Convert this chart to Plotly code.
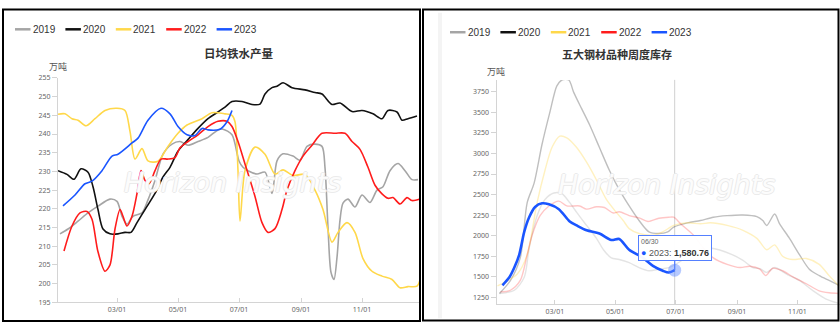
import plotly.graph_objects as go

W, H = 840, 327
YEAR = "2021-"

years = ["2019", "2020", "2021", "2022", "2023"]
colors = ["#A5A5A5", "#111111", "#FFD84A", "#FF1C1C", "#1A55FF"]
faded = ["rgba(165,165,165,0.30)", "rgba(17,17,17,0.27)", "rgba(255,216,74,0.35)",
         "rgba(255,28,28,0.25)", "rgba(26,85,255,0.3)"]

left_title = "日均铁水产量"
right_title = "五大钢材品种周度库存"
unit = "万吨"
watermark = "Horizon Insights"
tick_dates = ["03-01", "05-01", "07-01", "09-01", "11-01"]

# ---------------- 日均铁水产量 (万吨) ----------------
iron_2019_dates = ["01-03", "01-11", "01-21", "01-31", "02-10", "02-22", "03-01", "03-06", "03-11", "03-17",
                   "03-26", "04-01", "04-08", "04-16", "04-25", "05-03", "05-11", "05-21", "05-31", "06-10",
                   "06-15", "06-24", "07-01", "07-05", "07-10", "07-19", "07-27", "08-03", "08-08", "08-14",
                   "08-24", "08-31", "09-07", "09-15", "09-22", "09-25", "09-28", "10-01", "10-04", "10-07",
                   "10-10", "10-13", "10-18", "10-25", "11-01", "11-09", "11-16", "11-22", "11-29", "12-07",
                   "12-14", "12-21", "12-27"]
iron_2019_vals = [213.3, 214.6, 216.7, 218.9, 220.7, 222.6, 222.0, 218.0, 215.9, 218.0,
                  218.9, 222.4, 227.6, 234.6, 237.3, 238.0, 237.0, 238.0, 239.1, 241.1,
                  241.3, 239.8, 232.8, 231.1, 230.2, 229.3, 229.8, 224.1, 232.8, 234.7,
                  234.1, 233.0, 236.7, 237.3, 236.7, 231.0, 215.0, 203.0, 201.1, 207.0,
                  217.0, 221.5, 222.6, 220.5, 223.7, 221.7, 225.0, 225.9, 230.2, 232.1,
                  230.2, 227.8, 227.8]

iron_2020_dates = ["01-01", "01-10", "01-17", "01-24", "01-31", "02-05", "02-10", "02-15", "02-22", "03-02",
                   "03-09", "03-15", "03-21", "03-29", "04-08", "04-16", "04-23", "05-01", "05-11", "05-21",
                   "05-31", "06-10", "06-17", "06-24", "07-04", "07-14", "07-22", "07-27", "08-03", "08-08",
                   "08-14", "08-23", "09-05", "09-15", "09-22", "10-02", "10-10", "10-22", "11-01", "11-12",
                   "11-21", "11-27", "12-06", "12-11", "12-17", "12-26"]
iron_2020_vals = [230.2, 229.2, 227.9, 230.7, 229.8, 225.9, 219.8, 214.6, 213.3, 213.3,
                  213.7, 213.7, 216.3, 219.8, 224.1, 228.5, 231.1, 235.4, 238.5, 241.5,
                  244.1, 245.9, 247.2, 248.7, 248.7, 247.9, 248.0, 250.7, 252.4, 252.8,
                  253.7, 252.4, 251.8, 251.1, 250.7, 247.9, 248.3, 246.0, 246.3, 245.4,
                  244.1, 246.3, 245.9, 243.7, 244.1, 244.8]

iron_2021_dates = ["01-01", "01-08", "01-15", "01-21", "01-29", "02-07", "02-17", "03-01", "03-09", "03-14",
                   "03-19", "03-26", "04-01", "04-11", "04-21", "05-01", "05-10", "05-25", "06-04", "06-17",
                   "06-24", "06-27", "06-30", "07-02", "07-07", "07-17", "07-27", "08-06", "08-14", "08-24",
                   "09-05", "09-15", "09-23", "10-02", "10-08", "10-17", "10-25", "11-02", "11-11", "11-21",
                   "12-01", "12-09", "12-17", "12-26", "12-30"]
iron_2021_vals = [245.3, 245.4, 244.1, 243.7, 242.2, 244.1, 246.3, 246.9, 246.3, 240.7,
                  233.3, 236.1, 232.8, 232.7, 236.7, 240.2, 242.4, 244.1, 245.7, 245.4,
                  245.0, 243.3, 230.2, 216.7, 230.2, 236.5, 234.6, 229.3, 230.4, 228.9,
                  229.2, 225.0, 219.8, 211.1, 213.7, 216.3, 213.7, 206.7, 203.3, 202.0,
                  201.1, 198.9, 199.2, 199.3, 202.0]

iron_2022_dates = ["01-07", "01-15", "01-23", "01-30", "02-04", "02-10", "02-17", "02-22", "02-27", "03-04",
                   "03-07", "03-11", "03-16", "03-21", "03-25", "03-29", "04-02", "04-08", "04-14", "04-21",
                   "04-28", "05-03", "05-11", "05-21", "05-31", "06-10", "06-19", "06-24", "06-30", "07-07",
                   "07-17", "07-24", "07-30", "08-06", "08-13", "08-18", "08-26", "09-03", "09-12", "09-22",
                   "10-05", "10-15", "10-22", "10-30", "11-07", "11-14", "11-21", "11-27", "12-02", "12-09",
                   "12-16", "12-21", "12-29"]
iron_2022_vals = [208.7, 215.4, 218.9, 219.3, 217.2, 208.5, 203.3, 205.0, 214.6, 219.8,
                  218.0, 215.4, 218.0, 224.1, 230.2, 227.6, 226.7, 230.2, 233.3, 233.3,
                  233.7, 236.3, 238.0, 239.8, 242.0, 243.4, 243.4, 242.0, 238.0, 232.0,
                  223.3, 216.3, 213.7, 214.7, 219.8, 225.0, 230.2, 234.1, 237.0, 240.2,
                  240.2, 240.2, 238.0, 235.9, 231.1, 226.3, 224.0, 222.8, 223.0, 221.3,
                  223.0, 222.2, 222.6]

iron_2023_dates = ["01-06", "01-18", "01-28", "02-04", "02-14", "02-24", "03-02", "03-16", "03-22", "04-01",
                   "04-14", "04-23", "05-01", "05-10", "05-18", "05-25", "05-31", "06-12", "06-19", "06-24"]
iron_2023_vals = [220.8, 223.7, 226.7, 227.4, 230.2, 234.1, 234.6, 237.6, 238.9, 243.7,
                  246.9, 245.4, 242.0, 239.8, 239.6, 241.5, 241.1, 241.3, 243.3, 246.3]

# ---------------- 五大钢材品种周度库存 (万吨) ----------------
stock_2019_dates = ["01-04", "01-19", "01-29", "02-03", "02-11", "02-19", "02-28", "03-08", "03-16", "03-23",
                    "04-02", "04-12", "04-19", "04-27", "05-05", "05-15", "05-25", "06-04", "06-14", "06-24",
                    "07-06", "07-16", "07-26", "08-05", "08-27", "09-07", "09-17", "09-24", "10-01", "10-09",
                    "10-21", "11-03", "11-16", "11-30", "12-12"]
stock_2019_vals = [1297, 1337, 1495, 1850, 2244, 2441, 2520, 2512, 2402, 2284,
                   2125, 1968, 1830, 1731, 1711, 1672, 1613, 1574, 1593, 1613,
                   1690, 1785, 1840, 1850, 1771, 1700, 1613, 1600, 1554, 1613,
                   1534, 1456, 1338, 1230, 1180]

stock_2020_dates = ["01-04", "01-15", "01-25", "02-01", "02-08", "02-16", "02-24", "03-03", "03-08", "03-15",
                    "03-20", "03-28", "04-05", "04-15", "04-25", "05-05", "05-15", "05-25", "06-04", "06-14",
                    "06-23", "06-29", "07-13", "07-26", "08-08", "08-22", "09-07", "09-21", "09-27", "10-01",
                    "10-09", "10-14", "10-24", "11-03", "11-13", "11-23", "12-03", "12-13"]
stock_2020_vals = [1297, 1455, 1731, 2402, 2639, 3112, 3506, 3822, 3893, 3893,
                   3743, 3545, 3349, 3072, 2796, 2560, 2362, 2185, 2047, 2027,
                   2047, 2106, 2157, 2185, 2225, 2244, 2252, 2232, 2185, 2125,
                   2264, 2145, 1968, 1771, 1593, 1515, 1456, 1397]

stock_2021_dates = ["01-02", "01-22", "02-01", "02-11", "02-19", "02-26", "03-06", "03-13", "03-23", "04-02",
                    "04-12", "04-22", "05-02", "05-09", "05-15", "05-25", "06-08", "06-18", "06-29", "07-13",
                    "07-26", "08-05", "08-22", "09-07", "09-21", "10-01", "10-09", "10-17", "10-27", "11-10",
                    "11-23", "12-03", "12-13"]
stock_2021_vals = [1390, 1534, 1770, 2402, 2796, 3072, 3210, 3190, 3072, 2894,
                   2678, 2441, 2284, 2185, 2086, 2027, 2007, 2047, 2125, 2157,
                   2145, 2157, 2125, 2066, 1968, 1830, 1889, 1751, 1711, 1723,
                   1652, 1515, 1390]

stock_2022_dates = ["01-05", "01-15", "01-25", "02-01", "02-06", "02-14", "02-23", "03-05", "03-13", "03-26",
                    "04-02", "04-12", "04-20", "04-29", "05-05", "05-15", "05-25", "06-03", "06-14", "06-24",
                    "06-29", "07-06", "07-19", "07-29", "08-08", "08-22", "09-04", "09-14", "09-24", "09-30",
                    "10-07", "10-17", "10-27", "11-10", "11-23", "12-03", "12-13"]
stock_2022_vals = [1317, 1337, 1456, 1771, 2007, 2244, 2362, 2421, 2362, 2362,
                   2323, 2352, 2343, 2276, 2291, 2244, 2217, 2173, 2213, 2225,
                   2225, 2145, 2007, 1850, 1731, 1652, 1613, 1629, 1593, 1515,
                   1605, 1574, 1503, 1416, 1330, 1306, 1298]

stock_2023_dates = ["01-07", "01-14", "01-19", "01-24", "01-29", "02-03", "02-09", "02-16", "02-23", "03-05",
                    "03-16", "03-23", "04-02", "04-15", "04-27", "05-05", "05-15", "05-29", "06-08", "06-18",
                    "06-24", "06-30"]
stock_2023_vals = [1397, 1495, 1613, 1771, 2047, 2225, 2350, 2394, 2382, 2323,
                   2173, 2125, 2066, 2027, 1948, 1960, 1830, 1731, 1633, 1574,
                   1552, 1580.76]

iron_dates = [iron_2019_dates, iron_2020_dates, iron_2021_dates, iron_2022_dates, iron_2023_dates]
iron_vals = [iron_2019_vals, iron_2020_vals, iron_2021_vals, iron_2022_vals, iron_2023_vals]
stock_dates = [stock_2019_dates, stock_2020_dates, stock_2021_dates, stock_2022_dates, stock_2023_dates]
stock_vals = [stock_2019_vals, stock_2020_vals, stock_2021_vals, stock_2022_vals, stock_2023_vals]


def d(lst):
    return [YEAR + s for s in lst]


def px(x):
    return x / W


def py(y):
    return 1 - y / H


fig = go.Figure()

for i, yr in enumerate(years):
    fig.add_trace(go.Scatter(x=d(iron_dates[i]), y=iron_vals[i], name=yr, mode="lines",
                             line=dict(color=colors[i], width=1.6, shape="spline", smoothing=0.8),
                             xaxis="x", yaxis="y", showlegend=False, hoverinfo="skip"))

hover_idx = 4
for i, yr in enumerate(years):
    if i == hover_idx:
        continue
    fig.add_trace(go.Scatter(x=d(stock_dates[i]), y=stock_vals[i], name=yr, mode="lines",
                             line=dict(color=faded[i], width=1.4, shape="spline", smoothing=0.8),
                             xaxis="x2", yaxis="y2", showlegend=False, hoverinfo="skip"))
fig.add_trace(go.Scatter(x=d(stock_dates[hover_idx]), y=stock_vals[hover_idx], name=years[hover_idx],
                         mode="lines",
                         line=dict(color=colors[hover_idx], width=2.6, shape="spline", smoothing=0.8),
                         xaxis="x2", yaxis="y2", showlegend=False, hoverinfo="skip"))

# hovered point
hx = YEAR + stock_dates[hover_idx][-1]
hy = stock_vals[hover_idx][-1]
fig.add_trace(go.Scatter(x=[hx], y=[hy], mode="markers",
                         marker=dict(size=13, color="rgba(90,135,255,0.45)", line=dict(width=0)),
                         xaxis="x2", yaxis="y2", showlegend=False, hoverinfo="skip"))

axis_common = dict(showgrid=False, zeroline=False, showline=True, linecolor="#d4d4d4", linewidth=1,
                   tickfont=dict(family="Noto Sans", size=7, color="#666"), tickcolor="#d4d4d4")

fig.update_layout(
    width=W, height=H, autosize=False,
    margin=dict(l=0, r=0, t=0, b=0),
    paper_bgcolor="white", plot_bgcolor="white",
    xaxis=dict(domain=[px(58), px(421)], range=["2021-01-01", "2021-12-30"], type="date",
               tickvals=d(tick_dates), tickformat="%m/%d", ticks="inside", ticklen=4,
               anchor="y", **axis_common),
    yaxis=dict(domain=[py(305.7), py(75)], range=[195, 255], tick0=195, dtick=5,
               ticks="outside", ticklen=5, anchor="x", **axis_common),
    xaxis2=dict(domain=[px(496.5), 1.0], range=["2021-01-01", "2021-12-14"], type="date",
                tickvals=d(tick_dates), tickformat="%m/%d", ticks="inside", ticklen=4,
                anchor="y2", **axis_common),
    yaxis2=dict(domain=[py(307.7), py(77)], range=[1167, 3895], tick0=1250, dtick=250,
                ticks="outside", ticklen=5, anchor="x2", **axis_common),
    showlegend=False,
)

shapes = []
annotations = []

# panel borders
shapes.append(dict(type="rect", xref="paper", yref="paper", x0=px(3), x1=px(420), y0=py(325), y1=py(4.5),
                   line=dict(color="black", width=2), layer="above"))
shapes.append(dict(type="rect", xref="paper", yref="paper", x0=px(423), x1=px(838.5), y0=py(324.5), y1=py(4.5),
                   line=dict(color="black", width=2), layer="above"))
# faint container shadow in right panel
shapes.append(dict(type="line", xref="paper", yref="paper", x0=px(440), x1=px(440), y0=py(322), y1=py(8),
                   line=dict(color="#f4f4f4", width=4), layer="below"))

# crosshair at hovered date
shapes.append(dict(type="line", xref="x2", yref="y2 domain", x0=hx, x1=hx, y0=0, y1=1,
                   line=dict(color="#d0d0d0", width=1), layer="below"))

# manual legends
for lx0, ly in [(15, 25), (450, 28)]:
    for i, yr in enumerate(years):
        x0 = lx0 + 50.4 * i
        shapes.append(dict(type="line", xref="paper", yref="paper", x0=px(x0), x1=px(x0 + 15.5),
                           y0=py(ly), y1=py(ly), line=dict(color=colors[i], width=2.5)))
        annotations.append(dict(text=yr, xref="paper", yref="paper", x=px(x0 + 15.5), y=py(ly),
                                xanchor="left", yanchor="middle", showarrow=False,
                                font=dict(family="Liberation Sans", size=10, color="#333")))

# titles and units
annotations.append(dict(text=f"<b>{left_title}</b>", xref="paper", yref="paper", x=px(238), y=py(49),
                        showarrow=False, xanchor="center", yanchor="middle",
                        font=dict(family="Noto Sans CJK SC", size=11.5, color="#333")))
annotations.append(dict(text=f"<b>{right_title}</b>", xref="paper", yref="paper", x=px(617), y=py(50.5),
                        showarrow=False, xanchor="center", yanchor="middle",
                        font=dict(family="Noto Sans CJK SC", size=11, color="#333")))
annotations.append(dict(text=unit, xref="paper", yref="paper", x=px(58), y=py(63),
                        showarrow=False, xanchor="center", yanchor="middle",
                        font=dict(family="Noto Sans CJK SC", size=9, color="#555")))
annotations.append(dict(text=unit, xref="paper", yref="paper", x=px(496), y=py(68),
                        showarrow=False, xanchor="center", yanchor="middle",
                        font=dict(family="Noto Sans CJK SC", size=9, color="#555")))

# watermarks (faint outlined text)
wm_shadow = "1px 0 0 #e9e9e9, -1px 0 0 #e9e9e9, 0 1px 0 #e9e9e9, 0 -1px 0 #e9e9e9"
for wx, wy in [(232, 183), (666, 185)]:
    annotations.append(dict(text=watermark, xref="paper", yref="paper", x=px(wx), y=py(wy),
                            showarrow=False, xanchor="center", yanchor="middle",
                            font=dict(family="DejaVu Sans", size=27, color="rgba(255,255,255,0.9)",
                                      style="italic", shadow=wm_shadow)))

# tooltip
mm, dd = stock_dates[hover_idx][-1].split("-")
tip = (f"<span style='font-size:7px;color:#666'>{mm}/{dd}</span><br>"
       f"<span style='color:{colors[hover_idx]}'>●</span> "
       f"<span style='color:#555'>{years[hover_idx]}:</span> <b>{hy:,.2f}</b>")
annotations.append(dict(text=tip, xref="x2", yref="y2", x=hx, y=hy, showarrow=True,
                        ax=0, ay=-22, arrowhead=0, arrowwidth=1.2, arrowcolor="#5580ff", standoff=0,
                        align="left", bgcolor="rgba(255,255,255,0.96)", bordercolor="#5580ff",
                        borderwidth=1, borderpad=2,
                        font=dict(family="Liberation Sans", size=9, color="#333")))

fig.update_layout(shapes=shapes, annotations=annotations)
fig.write_html("out.html")
